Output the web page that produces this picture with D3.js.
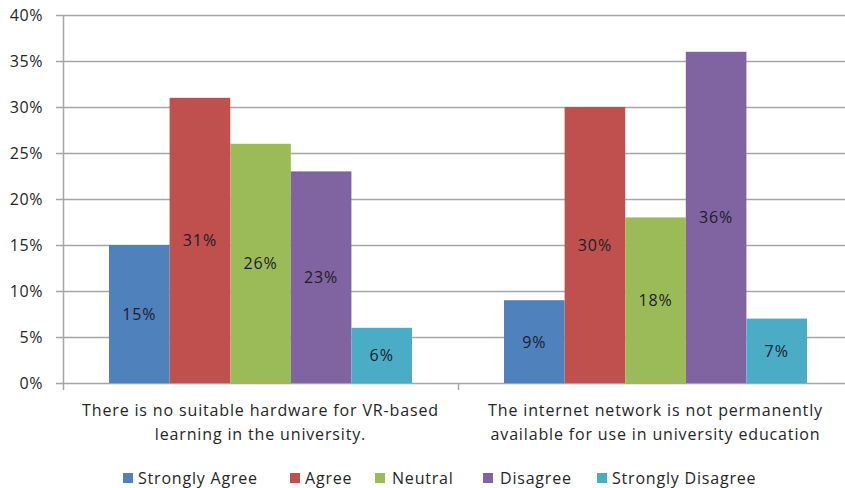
<!DOCTYPE html>
<html>
<head>
<meta charset="utf-8">
<script src="https://cdn.jsdelivr.net/npm/d3@7"></script>
<style>
  html, body { margin: 0; padding: 0; background: #fff; }
  svg { display: block; font-family: "Open Sans", "Noto Sans", sans-serif; }
</style>
</head>
<body>
<svg id="chart" width="845" height="488"></svg>
<script>
// Survey statements (x categories)
const categories = [
  ["There is no suitable hardware for VR-based", "learning in the university."],
  ["The internet network is not permanently", "available for use in university education"]
];
const seriesNames = ["Strongly Agree", "Agree", "Neutral", "Disagree", "Strongly Disagree"];
const seriesColors = ["#4F81BD", "#C0504D", "#9BBB59", "#8064A2", "#4BACC6"];
// Percentages per statement, in series order
const valuesHardware = [15, 31, 26, 23, 6];
const valuesInternet = [9, 30, 18, 36, 7];
const yTicks = [0, 5, 10, 15, 20, 25, 30, 35, 40];

const rows = [valuesHardware, valuesInternet];

const svg = d3.select("#chart");
const plot = { left: 63, right: 853, top: 15, bottom: 383 };

const x0 = d3.scaleBand().domain(d3.range(categories.length)).range([plot.left, plot.right]).padding(0);
const groupPad = 46;
const x1 = d3.scaleBand().domain(seriesNames).range([groupPad, x0.bandwidth() - groupPad]).padding(0);
const y = d3.scaleLinear().domain([0, 40]).range([plot.bottom, plot.top]);

const gridColor = "#A6A6A6";
const textColor = "#262626";

// Horizontal gridlines
svg.append("g")
  .selectAll("line")
  .data(yTicks)
  .join("line")
  .attr("x1", plot.left - 7)
  .attr("x2", plot.right)
  .attr("y1", d => y(d) + 0.5)
  .attr("y2", d => y(d) + 0.5)
  .attr("stroke", gridColor)
  .attr("stroke-width", 1.5);

// Y axis line
svg.append("line")
  .attr("x1", plot.left + 0.5).attr("x2", plot.left + 0.5)
  .attr("y1", plot.top).attr("y2", plot.bottom + 1)
  .attr("stroke", gridColor).attr("stroke-width", 1.5);

// Y tick labels
svg.append("g")
  .selectAll("text")
  .data(yTicks)
  .join("text")
  .attr("x", 43)
  .attr("y", d => y(d) + 6)
  .attr("text-anchor", "end")
  .attr("font-size", 16)
  .attr("letter-spacing", 0.6)
  .attr("fill", textColor)
  .text(d => d + "%");

// Category separator ticks on x axis
svg.append("g")
  .selectAll("line")
  .data(d3.range(categories.length + 1))
  .join("line")
  .attr("x1", i => (i < categories.length ? x0(i) : plot.right) + 0.5)
  .attr("x2", i => (i < categories.length ? x0(i) : plot.right) + 0.5)
  .attr("y1", plot.bottom)
  .attr("y2", plot.bottom + 7)
  .attr("stroke", gridColor)
  .attr("stroke-width", 1.5);

// Bars
const groups = svg.append("g")
  .selectAll("g")
  .data(rows)
  .join("g")
  .attr("transform", (d, i) => `translate(${x0(i)},0)`);

groups.selectAll("rect")
  .data(d => d.map((v, j) => ({ v, name: seriesNames[j], color: seriesColors[j] })))
  .join("rect")
  .attr("x", d => x1(d.name))
  .attr("width", x1.bandwidth())
  .attr("y", d => y(d.v))
  .attr("height", d => y(0) - y(d.v))
  .attr("fill", d => d.color);

// Value labels centred in each bar
groups.selectAll("text")
  .data(d => d.map((v, j) => ({ v, name: seriesNames[j] })))
  .join("text")
  .attr("x", d => x1(d.name) + x1.bandwidth() / 2)
  .attr("y", d => (y(d.v) + y(0)) / 2 + 6)
  .attr("text-anchor", "middle")
  .attr("font-size", 16)
  .attr("letter-spacing", 0.9)
  .attr("fill", "#1c1c2a")
  .text(d => d.v + "%");

// Category labels
const catLabels = svg.append("g")
  .selectAll("text")
  .data(categories)
  .join("text")
  .attr("x", (d, i) => x0(i) + x0.bandwidth() / 2)
  .attr("y", 416)
  .attr("text-anchor", "middle")
  .attr("font-size", 16)
  .attr("letter-spacing", 0.85)
  .attr("fill", textColor);
catLabels.selectAll("tspan")
  .data(d => d)
  .join("tspan")
  .attr("x", function () { return d3.select(this.parentNode).attr("x"); })
  .attr("dy", (d, i) => i === 0 ? 0 : 24)
  .text(d => d);

// Legend
const legendX = [123, 290, 375, 483, 597];
const legend = svg.append("g")
  .selectAll("g")
  .data(seriesNames)
  .join("g")
  .attr("transform", (d, i) => `translate(${legendX[i]},473)`);
legend.append("rect")
  .attr("width", 10).attr("height", 10)
  .attr("fill", (d, i) => seriesColors[i]);
legend.append("text")
  .attr("x", (d, i) => i === 2 || i === 3 ? 17 : 15)
  .attr("y", 11)
  .attr("font-size", 16)
  .attr("letter-spacing", 0.8)
  .attr("fill", textColor)
  .text(d => d);
</script>
</body>
</html>
